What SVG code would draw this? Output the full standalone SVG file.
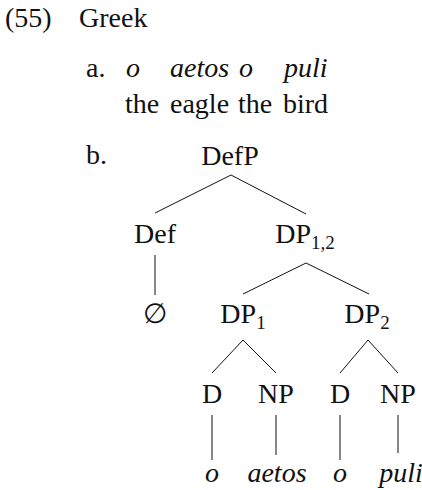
<svg xmlns="http://www.w3.org/2000/svg" width="422" height="490" viewBox="0 0 422 490" font-family="Liberation Serif, Times New Roman, serif" font-size="28">
<style>
text{font-family:'Liberation Serif','Times New Roman',serif;font-size:28px;fill:#111}
.i{font-style:italic}
.m{text-anchor:middle}
.sub{font-size:19px}
line{stroke:#111;stroke-width:1}
</style>
<rect width="422" height="490" fill="#fff"/>
<g id="header">
<text x="5" y="27">(55)</text>
<text x="79" y="27">Greek</text>
</g>
<g id="example-a">
<text x="86" y="77">a.</text>
<text x="126" y="77" class="i">o</text>
<text x="170" y="77" class="i">aetos</text>
<text x="239" y="77" class="i">o</text>
<text x="284" y="77" class="i">puli</text>
<text x="125" y="113">the</text>
<text x="170" y="113">eagle</text>
<text x="238" y="113">the</text>
<text x="283" y="113">bird</text>
</g>
<text x="86" y="164">b.</text>
<g id="connectors">
<line x1="231" y1="175" x2="155" y2="213"/>
<line x1="231" y1="175" x2="306" y2="214"/>
<line x1="155" y1="255" x2="155" y2="295"/>
<line x1="306" y1="263" x2="243" y2="294"/>
<line x1="306" y1="263" x2="369" y2="294"/>
<line x1="243" y1="340" x2="212" y2="373"/>
<line x1="243" y1="340" x2="276" y2="373"/>
<line x1="368" y1="340" x2="340" y2="373"/>
<line x1="368" y1="340" x2="398" y2="373"/>
<line x1="212" y1="415" x2="212" y2="460"/>
<line x1="276" y1="415" x2="276" y2="455"/>
<line x1="340" y1="415" x2="340" y2="460"/>
<line x1="398" y1="415" x2="398" y2="453"/>
</g>
<g id="DefP"><text x="230" y="165" class="m">DefP</text></g>
<g id="Def"><text x="155" y="243" class="m">Def</text></g>
<g id="DP12"><text x="305" y="243" class="m">DP<tspan class="sub" dy="6">1,2</tspan></text></g>
<g id="null"><text x="155" y="323" class="m">∅</text></g>
<g id="DP1"><text x="243" y="323" class="m">DP<tspan class="sub" dy="6">1</tspan></text></g>
<g id="DP2"><text x="367" y="323" class="m">DP<tspan class="sub" dy="6">2</tspan></text></g>
<g id="D1"><text x="212" y="403" class="m">D</text></g>
<g id="NP1"><text x="276" y="403" class="m">NP</text></g>
<g id="D2"><text x="340" y="403" class="m">D</text></g>
<g id="NP2"><text x="398" y="403" class="m">NP</text></g>
<g id="o1"><text x="212" y="482" class="m i">o</text></g>
<g id="aetos"><text x="277" y="482" class="m i">aetos</text></g>
<g id="o2"><text x="340" y="482" class="m i">o</text></g>
<g id="puli"><text x="401" y="482" class="m i">puli</text></g>
</svg>
